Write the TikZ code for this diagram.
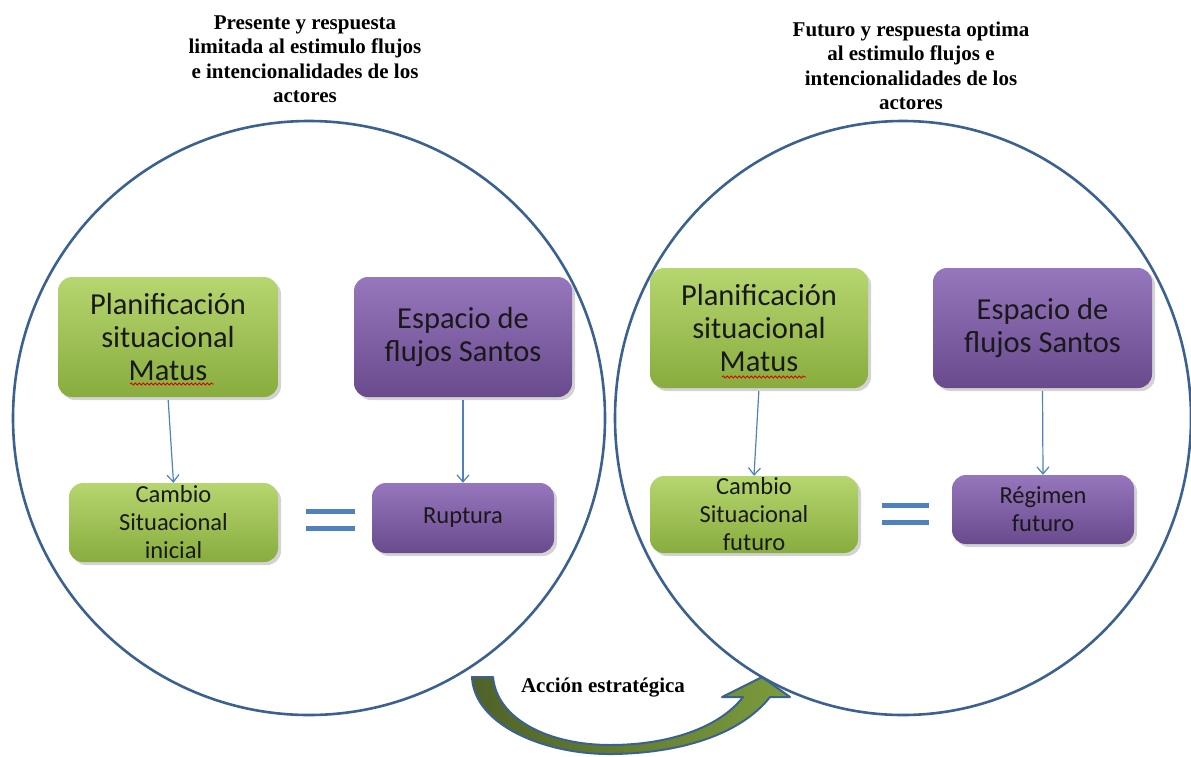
\documentclass[tikz,border=0pt]{standalone}
\usepackage{fontspec}
\setmainfont{Liberation Serif}
\setsansfont{Carlito}
\usepackage{tikz}
\usetikzlibrary{arrows, arrows.meta, shapes, shadows, decorations.pathmorphing}
\definecolor{azulcirc}{HTML}{3B6191}
\definecolor{azul}{HTML}{4F81BD}
\definecolor{verdeclaro}{HTML}{B6D66F}
\definecolor{verdeoscuro}{HTML}{88AC3E}
\definecolor{moradoclaro}{HTML}{9677BD}
\definecolor{moradooscuro}{HTML}{694A8D}
\definecolor{olivo}{HTML}{4F6228}
\definecolor{olivoclaro}{HTML}{7C9C3C}
\tikzset{x=1pt, y=-1pt,
  caja/.style={rectangle, rounded corners=14pt, inner sep=0pt, align=center, text=black!90,
    drop shadow={shadow xshift=3pt, shadow yshift=-3pt, opacity=.35}},
  verde/.style={caja, top color=verdeclaro, bottom color=verdeoscuro},
  morado/.style={caja, top color=moradoclaro, bottom color=moradooscuro},
  grande/.style={font=\fontsize{30.5}{33}\selectfont\sffamily},
  chica/.style={font=\fontsize{24.5}{28}\selectfont\sffamily},
  titulo/.style={align=center, font=\fontsize{21}{24.5}\selectfont\bfseries},
  flecha/.style={draw=azul, line width=1.2pt, shorten <=3pt,
    -{Straight Barb[length=7pt,width=12pt,line width=1.2pt]}},
  anillo/.style={draw=azulcirc, line width=2.6pt},
  igual/.style={fill=azul},
  subrayado/.style={draw=red!85!black, line width=.8pt, decorate,
    decoration={snake, amplitude=1.1pt, segment length=4pt}}
}

\begin{document}
\begin{tikzpicture}
%\draw[help lines] (0,0) grid[step=50pt] (1191,756);
\useasboundingbox (0,0) rectangle (1191,756);

% flecha curva de abajo
\draw[left color=olivo, right color=olivoclaro, draw=azulcirc, line width=2pt, line join=round]
  (472,677) .. controls (474,725) and (545,755) .. (613,754)
  .. controls (680,753) and (740,735) .. (770,697) -- (790,697) -- (762,677) -- (722,697) -- (743,697)
  .. controls (720,727) and (670,745) .. (610,745)
  .. controls (550,745) and (497,720) .. (493,677) -- cycle;

\draw[anillo] (309,418) ellipse [x radius=296pt, y radius=297pt];
\draw[anillo] (903,418) ellipse [x radius=288pt, y radius=297pt];

\path (305,59) node(titulo_ini) [titulo] {Presente y respuesta\\ limitada al estimulo flujos\\ e intencionalidades de los\\ actores}
(911,66) node(titulo_fut) [titulo] {Futuro y respuesta optima\\ al estimulo flujos e\\ intencionalidades de los\\ actores}
(603,688) node(accion) [titulo] {Acción estratégica};

\path (168,337) node(plan_ini) [verde,grande,minimum width=220pt,minimum height=120pt] {Planificación\\ situacional\\ Matus}
(463,337) node(espacio_ini) [morado,grande,minimum width=218pt,minimum height=120pt] {Espacio de\\ flujos Santos}
(173.5,522.5) node(cambio_ini) [verde,chica,minimum width=209pt,minimum height=79pt] {Cambio\\ Situacional\\ inicial}
(463,518) node(ruptura) [morado,chica,minimum width=182pt,minimum height=70pt] {Ruptura}
(759,328) node(plan_fut) [verde,grande,minimum width=218pt,minimum height=120pt] {Planificación\\ situacional\\ Matus}
(1042.5,328) node(espacio_fut) [morado,grande,minimum width=219pt,minimum height=120pt] {Espacio de\\ flujos Santos}
(754,514.5) node(cambio_fut) [verde,chica,minimum width=208pt,minimum height=77pt] {Cambio\\ Situacional\\ futuro}
(1043,509.5) node(regimen_fut) [morado,chica,minimum width=182pt,minimum height=69pt] {Régimen\\ futuro};

\draw[subrayado] (130,384) -- (214,384);
\draw[subrayado] (722,377) -- (806,377);

\draw[flecha] (plan_ini.south) -- (cambio_ini.north);
\draw[flecha] (espacio_ini.south) -- (ruptura.north);
\draw[flecha] (plan_fut.south) -- (cambio_fut.north);
\draw[flecha] (espacio_fut.south) -- (regimen_fut.north);

% signos igual
\fill[igual] (306,509) rectangle (355,514);
\fill[igual] (306,526) rectangle (355,531);
\fill[igual] (882,503) rectangle (929,508);
\fill[igual] (882,520) rectangle (929,525);
\end{tikzpicture}
\end{document}
